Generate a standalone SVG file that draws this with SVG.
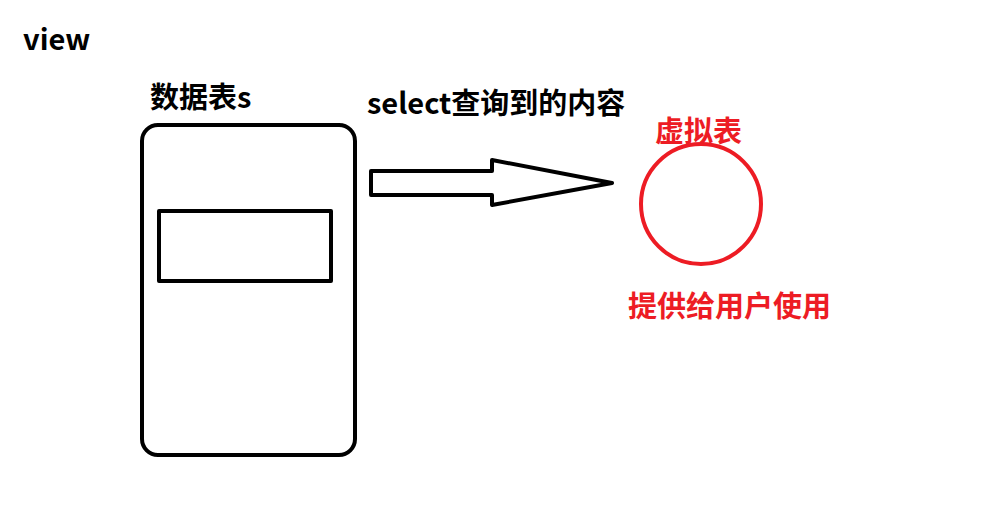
<svg xmlns="http://www.w3.org/2000/svg" width="998" height="527" viewBox="0 0 998 527">
<style>
.t{font-family:"Noto Sans CJK SC","Noto Sans",sans-serif;font-weight:bold;font-size:29px}
.k{fill:#000}
.r{fill:#ED1C24}
.s{fill:none;stroke:#000;stroke-width:4;stroke-linejoin:round}
</style>
<rect width="998" height="527" fill="#fff"/>
<text class="t k" x="23" y="50">view</text>
<g id="table">
<rect class="s" x="142" y="125" width="213" height="330" rx="16"/>
<rect class="s" x="159" y="211" width="172" height="70" stroke-linejoin="miter"/>
<text class="t k" x="150" y="108">数据表s</text>
</g>
<g id="connectors">
<path class="s" d="M371,171 L492,171 L492,160 L612,183 L492,205 L492,195 L371,195 Z"/>
<text class="t k" x="367" y="114">select查询到的内容</text>
</g>
<g id="virtual">
<circle cx="701" cy="204" r="60" fill="none" stroke="#ED1C24" stroke-width="4"/>
<text class="t r" x="655" y="142">虚拟表</text>
<text class="t r" x="628" y="317">提供给用户使用</text>
</g>
</svg>
